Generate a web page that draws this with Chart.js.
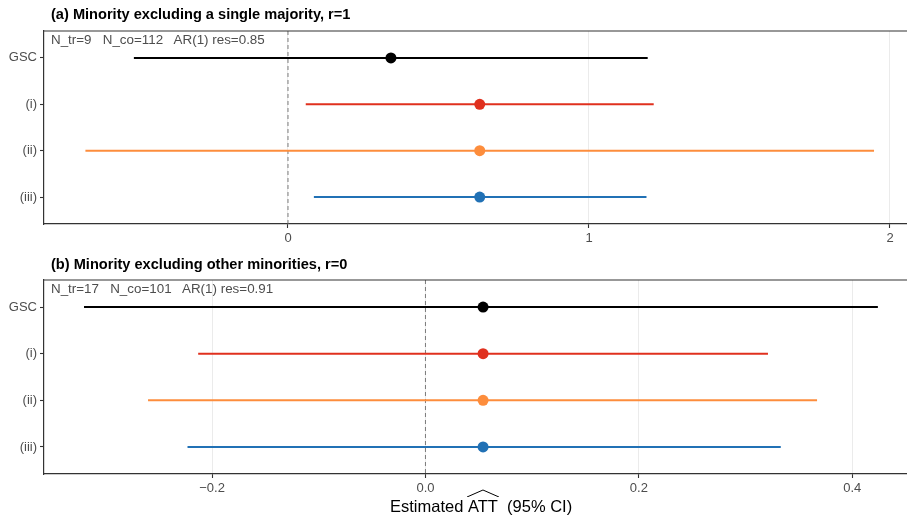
<!DOCTYPE html>
<html>
<head>
<meta charset="utf-8">
<script src="https://cdn.jsdelivr.net/npm/chart.js@4/dist/chart.umd.min.js"></script>
<style>
  html, body { margin:0; padding:0; background:#fff; }
  body { width:907px; height:518px; position:relative; overflow:hidden; font-family:"Liberation Sans", Arial, sans-serif; }
  .box { position:absolute; left:0; width:907px; }
  .ttl { position:absolute; left:51px; font-weight:bold; font-size:14.6px; color:#000; white-space:pre; }
  .ann { position:absolute; left:51px; font-size:13.4px; color:#4d4d4d; white-space:pre; }
  #xt { position:absolute; left:390px; top:497px; font-size:16.5px; color:#000; white-space:pre; }
  .hat { position:relative; display:inline-block; }
  .hat svg { position:absolute; left:-1px; top:-8px; width:calc(100% + 2px); height:8px; }
</style>
</head>
<body>
<div class="box" style="top:0;height:250px;"><canvas id="ca" width="907" height="250"></canvas></div>
<div class="box" style="top:250px;height:268px;"><canvas id="cb" width="907" height="268"></canvas></div>
<div class="ttl" style="top:6px;">(a) Minority excluding a single majority, r=1</div>
<div class="ann" style="top:32px;">N_tr=9   N_co=112   AR(1) res=0.85</div>
<div class="ttl" style="top:256px;">(b) Minority excluding other minorities, r=0</div>
<div class="ann" style="top:281px;">N_tr=17   N_co=101   AR(1) res=0.91</div>
<div id="xt">Estimated <span class="hat">ATT<svg viewBox="0 0 100 8" preserveAspectRatio="none"><polyline points="0,8 50,1 100,8" fill="none" stroke="#000" stroke-width="1" vector-effect="non-scaling-stroke"/></svg></span>  (95% CI)</div>
<script>
// ---- data ----
const rows = ["GSC", "(i)", "(ii)", "(iii)"];
const colors = ["#000000", "#E0301E", "#FD8D3C", "#2171B5"];

const aEst = [0.342, 0.637, 0.637, 0.637];
const aLo  = [-0.512, 0.059, -0.673, 0.086];
const aHi  = [1.195, 1.215, 1.947, 1.191];
const aTicks = [0, 1, 2];

const bEst = [0.054, 0.054, 0.054, 0.054];
const bLo  = [-0.320, -0.213, -0.260, -0.223];
const bHi  = [0.424, 0.321, 0.367, 0.333];
const bTicks = [-0.2, 0.0, 0.2, 0.4];

const topBorder = {
  id: 'topBorder',
  afterDraw(chart) {
    const {ctx, chartArea} = chart;
    ctx.save();
    ctx.strokeStyle = '#333333';
    ctx.lineWidth = 1.2;
    ctx.beginPath();
    ctx.moveTo(chartArea.left, chartArea.top);
    ctx.lineTo(chartArea.right + 2, chartArea.top);
    ctx.stroke();
    ctx.restore();
  }
};

function build(id, est, lo, hi, ticks, xmin, xmax, fmt, padTop, xH) {
  const datasets = [];
  const ymin = 0.42, ymax = 4.58;
  datasets.push({
    type: 'line',
    data: [{x: 0, y: ymin}, {x: 0, y: ymax}],
    borderColor: '#6e6e6e', borderWidth: 0.9, borderDash: [4, 3],
    pointRadius: 0, order: 10
  });
  rows.forEach((r, i) => {
    datasets.push({
      type: 'line',
      data: [{x: lo[i], y: i + 1}, {x: hi[i], y: i + 1}],
      borderColor: colors[i], borderWidth: 2,
      pointRadius: 0, order: 5
    });
  });
  datasets.push({
    type: 'scatter',
    data: est.map((v, i) => ({x: v, y: i + 1})),
    pointBackgroundColor: colors, pointBorderColor: colors,
    pointRadius: 5.5, pointBorderWidth: 0, order: 1
  });
  return new Chart(document.getElementById(id), {
    type: 'scatter',
    data: { datasets },
    options: {
      responsive: false, animation: false,
      layout: { autoPadding: false, padding: { top: padTop, left: 0, right: 0, bottom: 0 } },
      plugins: { legend: { display: false }, tooltip: { enabled: false } },
      scales: {
        x: {
          type: 'linear', min: xmin, max: xmax,
          afterBuildTicks: (s) => { s.ticks = ticks.map(v => ({value: v})); },
          afterFit: (s) => { s.height = xH; },
          ticks: { callback: fmt, color: '#4d4d4d', font: { family: 'Liberation Sans', size: 13 }, padding: 3, maxRotation: 0, autoSkip: false },
          grid: { color: '#EBEBEB', lineWidth: 1, tickLength: 4, tickColor: '#333333', tickWidth: 1.1 },
          border: { display: true, color: '#333333', width: 1.2 }
        },
        y: {
          type: 'linear', reverse: true, min: ymin, max: ymax,
          afterBuildTicks: (s) => { s.ticks = rows.map((r, i) => ({value: i + 1})); },
          afterFit: (s) => { s.width = 44; },
          ticks: { callback: (v) => rows[Math.round(v) - 1], color: '#4d4d4d', font: { family: 'Liberation Sans', size: 13 }, padding: 3, autoSkip: false },
          grid: { drawOnChartArea: false, tickLength: 4, tickColor: '#333333', tickWidth: 1.1 },
          border: { display: true, color: '#333333', width: 1.2 }
        }
      }
    },
    plugins: [topBorder]
  });
}

build('ca', aEst, aLo, aHi, aTicks, -0.8106, 2.0565, (v) => String(v), 31, 26);
build('cb', bEst, bLo, bHi, bTicks, -0.3575, 0.4513,
      (v) => (v < 0 ? '\u2212' : '') + Math.abs(v).toFixed(1), 30, 44);
</script>
</body>
</html>
